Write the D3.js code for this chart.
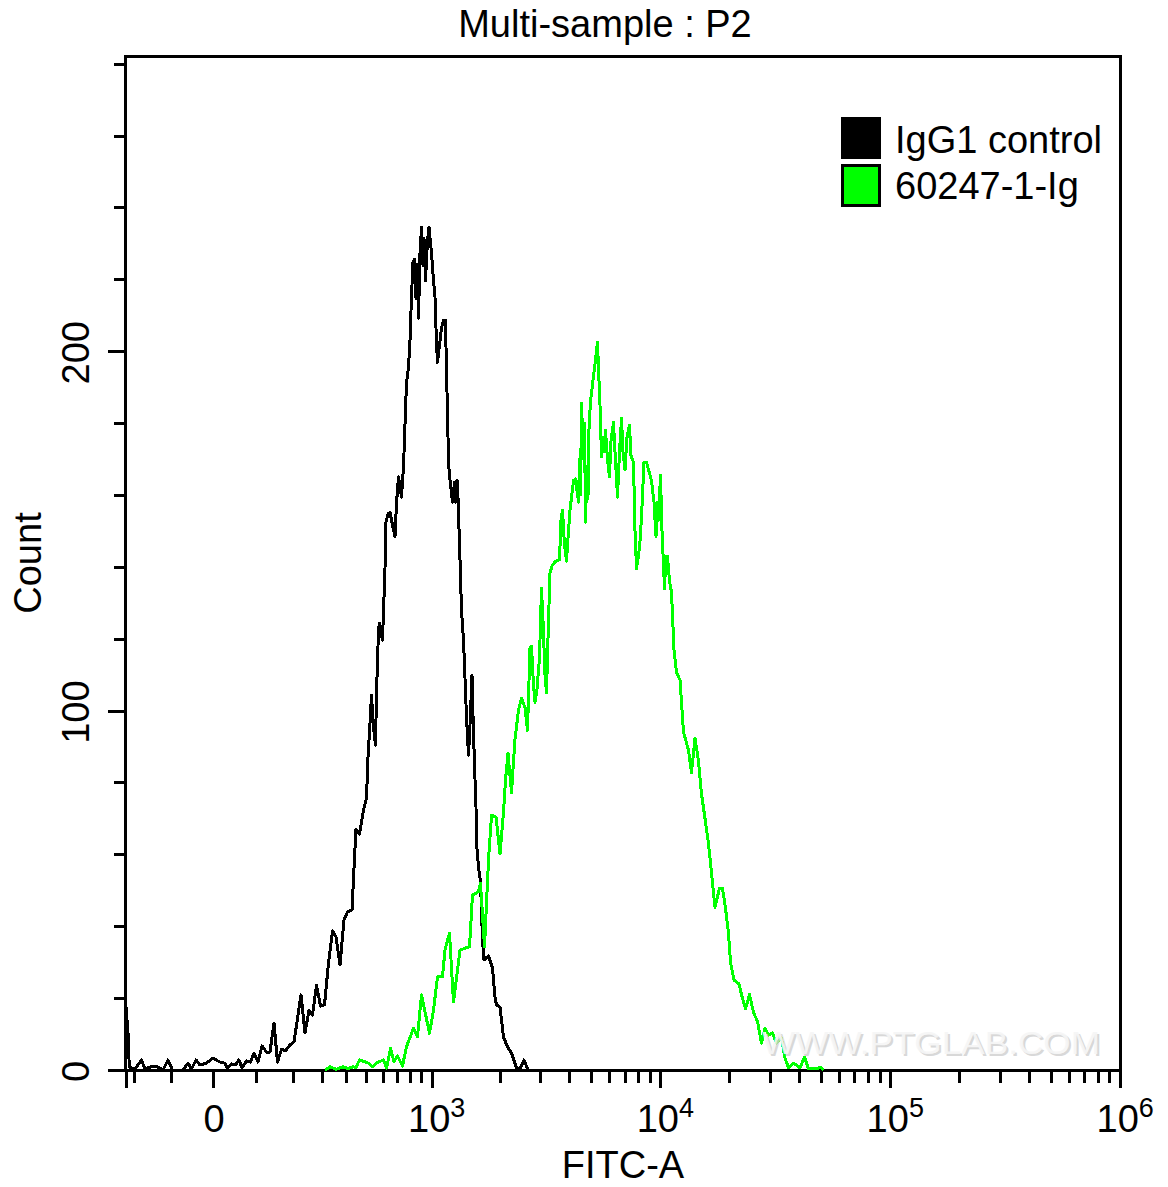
<!DOCTYPE html>
<html lang="en">
<head>
<meta charset="UTF-8">
<title>Multi-sample : P2</title>
<script src="https://d3js.org/d3.v7.min.js"></script>
<style>
    body { margin: 0; padding: 0; background: #fff; }
    svg { display: block; }
    text { font-family: "Liberation Sans", Arial, sans-serif; font-size: 38px; fill: #000; }
    .tick line { stroke: #000; stroke-width: 3; shape-rendering: crispEdges; }
    .domain { display: none; }
    .trace { fill: none; stroke-width: 3; stroke-linejoin: round; shape-rendering: crispEdges; }
</style>
</head>
<body>
<div id="chart"></div>
<script>
// histogram channels (0-995 across the display axis) and counts
const blackChannel = [0, 2.5, 3.8, 9.5, 16, 19.5, 27.5, 32.5, 37.5, 42.5, 47, 57.5, 62.5, 66, 70.5, 74.5, 81, 87.5, 94.5, 99.5,
    101.5, 106, 110, 113.5, 116.5, 121, 125, 128.5, 132.5, 136.5, 141, 144.5, 148.5, 152, 156, 160, 164.5, 168.5, 175.5, 179.5,
    183.5, 187, 191, 195, 199, 203, 207, 210.5, 214.5, 218.5, 222, 226.5, 228.5, 230.5, 234, 238, 241, 242.5, 244, 246,
    247.5, 250, 251, 253, 254, 255.5, 257, 259, 260, 260.5, 262.5, 264.5, 267, 269.5, 271, 273, 275, 276, 278, 280,
    281, 283, 284.5, 286, 287.5, 289, 290.5, 291.5, 293, 294.5, 296, 297.5, 298.5, 300, 302, 303.5, 306, 308, 309.5, 311,
    312, 314, 316, 318, 320, 321, 322, 323, 324.5, 327, 329, 330, 331.5, 332.5, 334.5, 336, 338, 339.5, 341, 343,
    344.5, 346.5, 347.5, 349, 350.5, 351, 353, 355, 357, 358.5, 360.5, 363, 367, 369.5, 371, 374.5, 378, 382, 386, 391,
    392.5, 395.5, 398.5, 402.5];
const blackCount = [19.5, 10.3, 0.8, 0.3, 2.8, 0.3, 1.1, 0.8, 0, 2.8, 0, 0, 1.9, 0.3, 2.8, 1.4, 1.9, 3.3, 2.2, 1.9,
    0.6, 1.7, 1.4, 2.8, 0.6, 2.5, 2.2, 4.7, 2.2, 6.7, 5, 5, 13.1, 2.2, 5.8, 5.3, 7, 7.8, 20.9, 10.3,
    16.7, 15.3, 23.6, 17.8, 18.1, 29.8, 38.7, 37, 29.2, 41.7, 44, 44.5, 56.2, 67, 65.6, 72.3, 75.7, 87, 94, 104.3,
    96.8, 90.4, 104.9, 122.4, 124.3, 121.8, 119.6, 135.5, 143.8, 152.4, 154.7, 155.2, 151.6, 148.5, 157.7, 165, 161.3, 159.4, 167.7, 183.6,
    191, 195.5, 203, 215.3, 224.8, 225.6, 214.7, 224.2, 209.2, 227.3, 234.5, 223.9, 231.4, 219.7, 230.9, 234.5, 227.3, 219.7, 215, 202.2,
    196.9, 201.7, 206.4, 208.6, 208.6, 193.9, 183.6, 168.8, 164.1, 158, 163.6, 158, 164.1, 159.4, 141.9, 128, 119.6, 109, 98.2, 87.6,
    96, 109.9, 98.7, 84.8, 73.2, 63.1, 56.5, 52.3, 36.2, 30.6, 31.2, 31.7, 28.4, 20.3, 18.1, 17.5, 9.2, 6.4, 4.7, 0.6,
    0, 0.8, 2.8, 0];

const greenChannel = [199.5, 204.5, 211, 217.5, 222.5, 227.5, 230.5, 234, 243, 247, 251, 258, 261, 265, 268.5, 272, 277, 281, 288, 292,
    296, 304, 308, 312, 317, 319.5, 324, 326, 328, 334.5, 344, 347, 353, 355, 359, 363, 366, 370.5, 374.5, 378,
    380, 382.5, 386, 389.5, 393, 396, 399.5, 402, 404.5, 406, 408, 409.5, 411.5, 414, 416, 417.5, 419.5, 421, 423, 424.5,
    426.5, 429.5, 434, 435.5, 437, 439, 441, 443, 444.5, 448, 450, 453, 454, 455, 456, 458, 459, 460, 461.5, 462.5,
    463, 465, 469.5, 472, 473, 474.5, 476, 477.5, 479, 480, 482, 484, 485.5, 488, 489.5, 492, 494, 496, 497.5, 499.5,
    501.5, 504, 505.5, 508, 509.5, 511, 513, 514.5, 516, 518.5, 521, 526, 528.5, 530.5, 532, 533, 535, 536.5, 539, 540.5,
    542, 544, 546, 548.5, 551, 554.5, 558, 563, 566, 569.5, 573, 576, 579.5, 583, 586, 589.5, 594, 597, 600, 603,
    605, 608.5, 613.5, 616, 620, 624, 628, 632, 636, 639.5, 643, 647, 651, 656, 659.5, 663, 668, 674.5, 679, 683,
    691, 694.5, 698];
const greenCount = [0, 0.9, 0.2, 0.9, 0.4, 0.9, 0.7, 2.8, 1.9, 0.9, 2, 2.8, 0.5, 6, 2.3, 3.9, 1.1, 6.5, 11.6, 9.3,
    20.9, 10.2, 16.7, 25.9, 25.9, 33.4, 38.1, 28.4, 19, 33.4, 34.3, 48.7, 49.6, 51.9, 34.3, 58.4, 70.9, 70.4, 60.2, 71.6,
    80.7, 88.2, 77.1, 92.1, 100.1, 103.4, 100.9, 94.5, 117.4, 117.9, 107, 102.3, 106, 114.7, 134, 125, 110, 105, 125, 138.2,
    140.3, 141.4, 142, 153, 155.8, 146, 141.6, 150, 155.8, 164, 164.5, 158, 170, 160, 185.5, 170, 180, 152.4, 168, 159,
    175.8, 186, 196.5, 202.5, 195, 185, 170.6, 176, 172, 178, 170, 165, 175, 180.2, 172, 159.4, 172, 181.3, 172, 167,
    176, 179.4, 171, 169, 150, 139.5, 143, 147, 153.8, 169.1, 169.1, 164, 158, 148.5, 158, 153, 165.4, 150, 134, 143,
    143, 136, 133, 116.8, 110.7, 108.5, 94, 89, 82.8, 92.3, 86, 76.8, 70, 63, 54.8, 45.3, 50.6, 50.6, 45, 38,
    30, 25, 24, 21, 17, 21, 16, 13.5, 7.5, 11.7, 9.7, 10.3, 7.5, 8.9, 3.3, 0.6, 1.9, 0.6, 3.6, 0.3,
    0.3, 0.8, 0];

// axis ticks
const countMinorTicks = d3.range(0, 281, 20);
const countMajorTicks = [0, 100, 200];
const fitcMinorTicks = [-200, -100, 100, 200, 300, 400, 500, 600, 700, 800, 900,
    2e3, 3e3, 4e3, 5e3, 6e3, 7e3, 8e3, 9e3,
    2e4, 3e4, 4e4, 5e4, 6e4, 7e4, 8e4, 9e4,
    2e5, 3e5, 4e5, 5e5, 6e5, 7e5, 8e5, 9e5];
const fitcMajorTicks = [-228, 0, 1e3, 1e4, 1e5, 1e6];
const fitcLabels = ["", "0", "3", "4", "5", "6"]; // exponent, or plain text for the zero

const seriesNames = ["IgG1 control", "60247-1-Ig"];
const seriesColors = ["#000000", "#00ff00"];

const width = 1168, height = 1187;
const plotLeft = 125.5, plotRight = 1120, plotTop = 56.5, plotBottom = 1070;

const svg = d3.select("#chart").append("svg")
    .attr("width", width)
    .attr("height", height);

const x = d3.scaleLinear().domain([0, 995]).range([plotLeft, plotRight + 0.5]);
const y = d3.scaleLinear().domain([0, 282]).range([plotBottom, plotTop]);

// biexponential display: asinh of the FITC value, so the ticks go through a linear scale
const tickPos = v => Math.asinh(v / 228);
const xAxisScale = d3.scaleLinear()
    .domain([tickPos(-228), tickPos(1e6)])
    .range([plotLeft, plotRight]);

// x axis
svg.append("g")
    .attr("transform", `translate(0,${plotBottom})`)
    .call(d3.axisBottom(xAxisScale).tickValues(fitcMinorTicks.map(tickPos)).tickSize(13).tickFormat(""));

const xMajor = svg.append("g")
    .attr("transform", `translate(0,${plotBottom})`)
    .call(d3.axisBottom(xAxisScale).tickValues(fitcMajorTicks.map(tickPos)).tickSize(18).tickFormat(""));

xMajor.selectAll(".tick text").each(function(d, i) {
    const t = d3.select(this).attr("y", 62).attr("dy", null);
    if (i === 0) return;
    if (i === 1) {
        t.attr("text-anchor", "middle").style("font-size", "38px").text(fitcLabels[i]);
        return;
    }
    t.attr("text-anchor", "start").attr("x", -24).style("font-size", "38px");
    t.append("tspan").text("10");
    t.append("tspan").attr("dy", -15).style("font-size", "27px").text(fitcLabels[i]);
});

// y axis
svg.append("g")
    .attr("transform", `translate(${plotLeft},0)`)
    .call(d3.axisLeft(y).tickValues(countMinorTicks).tickSize(12).tickFormat(""));

svg.append("g")
    .attr("transform", `translate(${plotLeft},0)`)
    .call(d3.axisLeft(y).tickValues(countMajorTicks).tickSize(18))
    .selectAll(".tick text")
    .attr("x", null).attr("y", null).attr("dy", null)
    .attr("text-anchor", "middle")
    .style("font-size", "38px")
    .attr("transform", "translate(-37,1) rotate(-90)");

// frame
svg.append("rect")
    .attr("x", plotLeft).attr("y", plotTop)
    .attr("width", plotRight - plotLeft).attr("height", plotBottom - plotTop)
    .attr("fill", "none").attr("stroke", "#000").attr("stroke-width", 3)
    .attr("shape-rendering", "crispEdges");

// histograms
const line = d3.line()
    .x(d => x(d[0]))
    .y(d => y(d[1]));

svg.append("path")
    .datum(d3.zip(blackChannel, blackCount))
    .attr("class", "trace")
    .attr("stroke", seriesColors[0])
    .attr("d", line);

svg.append("path")
    .datum(d3.zip(greenChannel, greenCount))
    .attr("class", "trace")
    .attr("stroke", seriesColors[1])
    .attr("d", line);

// titles
svg.append("text").attr("x", 605).attr("y", 37).attr("text-anchor", "middle").text("Multi-sample : P2");
svg.append("text").attr("x", 623).attr("y", 1178).attr("text-anchor", "middle").text("FITC-A");
svg.append("text")
    .attr("transform", "translate(41,563) rotate(-90)")
    .attr("text-anchor", "middle")
    .text("Count");

// legend
const legendY = d3.scaleBand().domain(seriesNames).range([116.5, 206.5]).paddingInner(0.1);
const legend = svg.selectAll(".legend")
    .data(seriesNames)
    .enter().append("g")
    .attr("class", "legend");
legend.append("rect")
    .attr("x", 842.5)
    .attr("y", d => legendY(d) + 1.5)
    .attr("width", 37)
    .attr("height", legendY.bandwidth() - 3)
    .attr("fill", (d, i) => seriesColors[i])
    .attr("stroke", "#000")
    .attr("stroke-width", 3)
    .attr("shape-rendering", "crispEdges");
legend.append("text")
    .attr("x", 895)
    .attr("y", (d, i) => i === 0 ? 153 : 199)
    .text(d => d);

// watermark
const mark = svg.append("g");
mark.append("text")
    .attr("x", 764).attr("y", 1056)
    .attr("textLength", 338)
    .attr("lengthAdjust", "spacingAndGlyphs")
    .style("font-size", "31px")
    .style("fill", "#cfcfcf")
    .style("opacity", 0.8)
    .text("WWW.PTGLAB.COM");
mark.append("text")
    .attr("x", 762).attr("y", 1054)
    .attr("textLength", 338)
    .attr("lengthAdjust", "spacingAndGlyphs")
    .style("font-size", "31px")
    .style("fill", "#f6f6f6")
    .style("opacity", 0.9)
    .text("WWW.PTGLAB.COM");
</script>
</body>
</html>
